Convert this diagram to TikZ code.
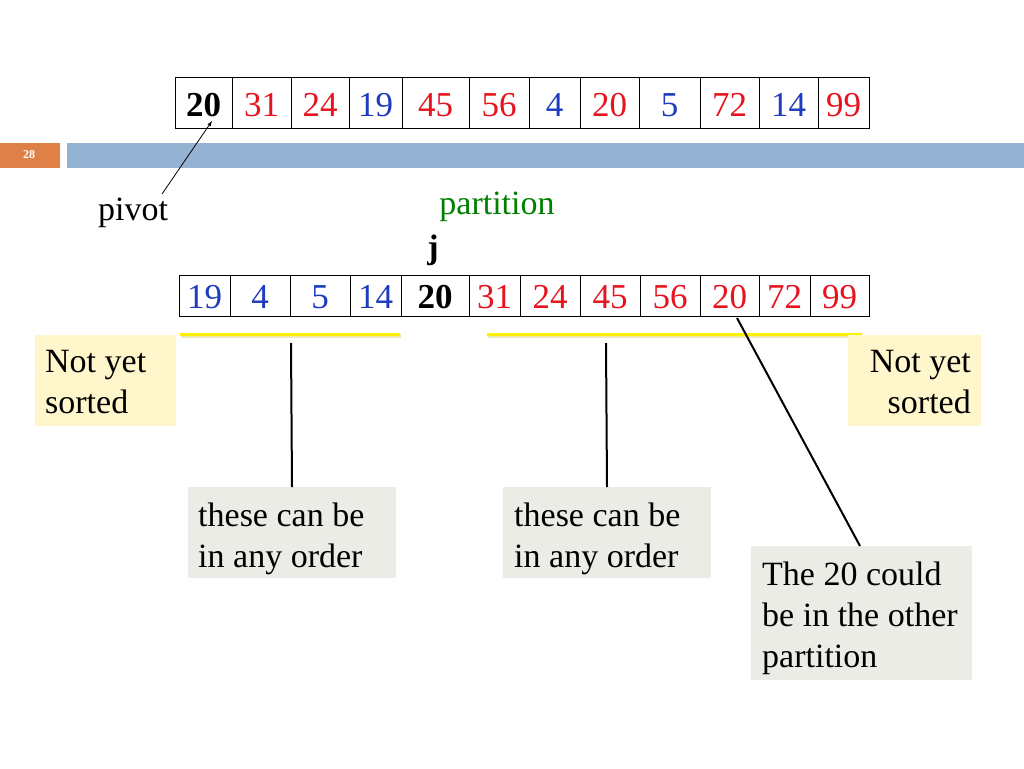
\documentclass[tikz,border=0pt]{standalone}
\usepackage{fontspec}
\setmainfont{Liberation Serif}
\begin{document}
\begin{tikzpicture}[x=1pt,y=-1pt,
  cell/.style={draw=black,line width=0.8pt,inner sep=0pt,anchor=north west},
  num/.style={font=\fontsize{35}{40}\selectfont,anchor=base},
  txt/.style={font=\fontsize{34}{41}\selectfont,align=left,anchor=base west,inner sep=0pt}]
\useasboundingbox (0,0) rectangle (1024,768);
\definecolor{nred}{RGB}{230,20,30}\definecolor{nblue}{RGB}{30,60,190}
\definecolor{barblue}{RGB}{148,178,209}\definecolor{barora}{RGB}{222,128,72}
\definecolor{yel}{RGB}{255,246,204}\definecolor{gry}{RGB}{236,236,230}
\fill[barora] (0,143) rectangle (60,168);
\node[text=white,font=\fontsize{12}{14}\selectfont\bfseries] (pg) at (29,155) {28};
\fill[barblue] (67,143) rectangle (1024,168);
% top array
\foreach \a/\b/\t/\c [count=\i] in {175/232/20/black,232/291/31/nred,291/349/24/nred,349/402/19/nblue,402/469/45/nred,469/529/56/nred,529/580/4/nblue,580/639/20/nred,639/700/5/nblue,700/759/72/nred,759/818/14/nblue,818/869/99/nred}{
  \node[cell,minimum width={\b-\a},minimum height=51] (t\i) at (\a,77) {};
  \node[num,text=\c] (tn\i) at ({(\a+\b)/2},116) {\ifnum\i=1 \textbf{\t}\else\t\fi};
}
% bottom array
\foreach \a/\b/\t/\c [count=\i] in {179/230/19/nblue,230/290/4/nblue,290/350/5/nblue,350/401/14/nblue,401/469/20/black,469/520/31/nred,520/580/24/nred,580/640/45/nred,640/700/56/nred,700/759/20/nred,759/810/72/nred,810/869/99/nred}{
  \node[cell,minimum width={\b-\a},minimum height=41] (b\i) at (\a,275) {};
  \node[num,text=\c] (bn\i) at ({(\a+\b)/2},308) {\ifnum\i=5 \textbf{\t}\else\t\fi};
}
\node[font=\fontsize{34}{36}\selectfont,anchor=base] (pivot) at (133,220) {pivot};
\draw[-latex,line width=0.8pt] (162,194) -- (212,121);
\node[font=\fontsize{34}{36}\selectfont,text=green!50!black,anchor=base] (part) at (497,214) {partition};
\node[font=\fontsize{34}{36}\selectfont\bfseries,anchor=base] (j) at (433,258) {j};
% yellow underlines
\draw[yellow!60!gray!40,line width=4pt] (181,336) -- (401,336) (488,336) -- (863,336);
\draw[yellow,line width=3pt] (180,334) -- (400,334) (487,334) -- (862,334);
% boxes
\fill[yel] (35,335) rectangle (176,426);
\node[txt] (ny1) at (45,413) {Not yet\\sorted};
\fill[yel] (848,335) rectangle (981,426);
\node[txt,align=right,anchor=base east] (ny2) at (971,413) {Not yet\\sorted};
\fill[gry] (188,487) rectangle (396,578);
\node[txt] (g1) at (198,567) {these can be\\in any order};
\fill[gry] (503,487) rectangle (711,578);
\node[txt] (g2) at (514,567) {these can be\\in any order};
\fill[gry] (751,546) rectangle (972,680);
\node[txt] (g3) at (762,667) {The 20 could\\be in the other\\partition};
\draw[line width=2pt] (291,343) -- (292,487);
\draw[line width=2pt] (606,343) -- (607,487);
\draw[line width=2pt] (737,318) -- (860,546);
\end{tikzpicture}
\end{document}
